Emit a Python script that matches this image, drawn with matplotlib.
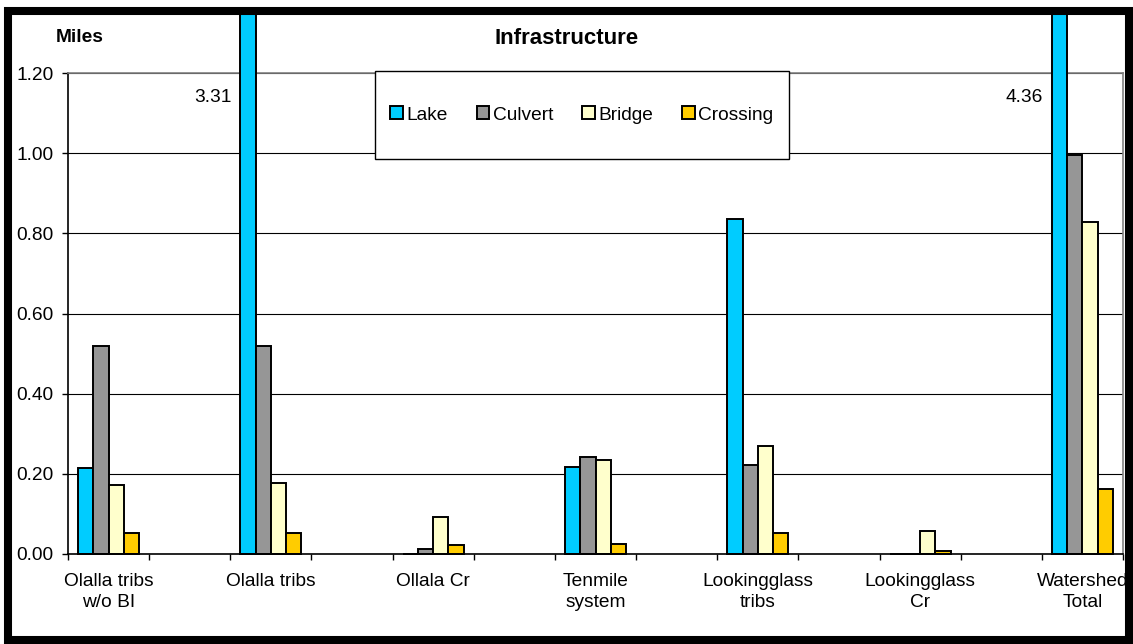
import matplotlib.pyplot as plt
from matplotlib.patches import Rectangle

plt.rcParams['font.family'] = ['Liberation Sans', 'DejaVu Sans']

categories = ["Olalla tribs\nw/o BI", "Olalla tribs", "Ollala Cr", "Tenmile\nsystem",
              "Lookingglass\ntribs", "Lookingglass\nCr", "Watershed\nTotal"]
series_names = ["Lake", "Culvert", "Bridge", "Crossing"]
lake = [0.214, 3.31, 0.0, 0.218, 0.835, 0.0, 4.36]
culvert = [0.52, 0.52, 0.013, 0.243, 0.221, 0.0, 0.995]
bridge = [0.172, 0.177, 0.093, 0.235, 0.27, 0.057, 0.828]
crossing = [0.053, 0.053, 0.022, 0.026, 0.052, 0.008, 0.163]
colors = ["#00CCFF", "#969696", "#FFFFCC", "#FFCC00"]
yticks = [0.0, 0.2, 0.4, 0.6, 0.8, 1.0, 1.2]

W, H = 1133, 644
fig = plt.figure(figsize=(W / 100, H / 100), dpi=100)
ax = fig.add_axes([68 / W, (H - 554) / H, (1123 - 68) / W, (554 - 73) / H])

# bars may run above the plot area, up to the chart border
clip = Rectangle((0, 0), 1, (H - 14) / H, transform=fig.transFigure)

fs = 13.8
w = 0.1875
pos = [2 * i for i in range(len(categories))]
for k, (vals, name) in enumerate(zip([lake, culvert, bridge, crossing], series_names)):
    xs = [p + (k - 1.5) * w for p in pos]
    bars = ax.bar(xs, vals, width=w, color=colors[k], edgecolor="black",
                  linewidth=1.4, label=name, zorder=3)
    for b in bars:
        b.set_clip_path(clip)

# values of the bars that leave the plot area
for p, v in zip(pos, lake):
    if v > 1.2:
        ax.text(p - 2 * w - 0.115, 1.14, f"{v:.2f}", ha="right", va="center",
                fontsize=fs, zorder=5)

ax.set_xlim(-0.5, 12.5)
ax.set_ylim(0, 1.2)
ax.set_yticks(yticks)
ax.set_yticklabels([f"{t:.2f}" for t in yticks])
ax.set_xticks([i - 0.5 for i in range(14)])
ax.set_xticklabels([])
ax.set_xticks(pos, minor=True)
ax.set_xticklabels(categories, minor=True, linespacing=1.28)
ax.tick_params(axis="x", which="major", length=4.3, width=1, direction="out")
ax.tick_params(axis="x", which="minor", length=0, pad=14, labelsize=fs)
ax.tick_params(axis="y", length=4.3, width=1, pad=6, labelsize=fs)
ax.yaxis.grid(True, color="black", linewidth=0.8)
ax.set_axisbelow(True)
for s in ["top", "right"]:
    ax.spines[s].set_color("#808080")
    ax.spines[s].set_linewidth(1.2)
for s in ["left", "bottom"]:
    ax.spines[s].set_color("black")
    ax.spines[s].set_linewidth(1.2)
ax.spines["bottom"].set_zorder(4)

fig.text(80 / W, 1 - 38 / H, "Miles", ha="center", va="center",
         fontsize=fs, fontweight="bold")
fig.text(567 / W, 1 - 39 / H, "Infrastructure", ha="center", va="center",
         fontsize=16, fontweight="bold")

# legend box
lx0, lx1, ly0, ly1 = 375, 789, 71, 159
fig.patches.append(Rectangle((lx0 / W, 1 - ly1 / H), (lx1 - lx0) / W, (ly1 - ly0) / H,
                             transform=fig.transFigure, facecolor="white",
                             edgecolor="black", linewidth=1.0, zorder=6))
leg = fig.legend(loc="center", bbox_to_anchor=((lx0 + lx1) / 2 / W, 1 - (ly0 + ly1) / 2 / H),
                 ncol=4, frameon=False, fontsize=fs, handlelength=0.65,
                 handleheight=0.65, handletextpad=0.2, columnspacing=1.5)
leg.set_zorder(7)

# chart border
fig.patches.append(Rectangle((8 / W, 4 / H), (1129 - 8) / W, (640 - 11) / H,
                             transform=fig.transFigure, facecolor="none",
                             edgecolor="black", linewidth=5.8, zorder=10))

fig.savefig("out.png", dpi=100)
